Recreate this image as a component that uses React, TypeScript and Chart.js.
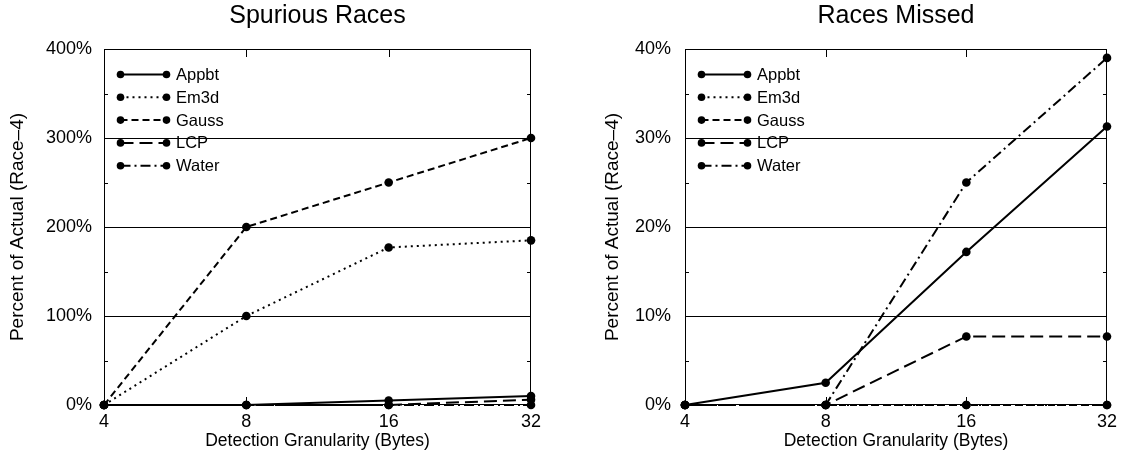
import React, { useEffect, useRef } from 'react';
import { Chart, registerables } from 'chart.js';

Chart.register(...registerables);

const FONT = "'Liberation Sans', Arial, Helvetica, sans-serif";

// ---------- data ----------
const categories = ['4', '8', '16', '32'];
const seriesNames = ['Appbt', 'Em3d', 'Gauss', 'LCP', 'Water'];

const spuriousAppbt = [0, 0, 5, 10];
const spuriousEm3d = [0, 100, 177, 185];
const spuriousGauss = [0, 200, 250, 300];
const spuriousLCP = [0, 0, 0, 6];
const spuriousWater = [0, 0, 0, 0];

const missedAppbt = [0, 2.5, 17.2, 31.3];
const missedEm3d = [0, 0, 0, 0];
const missedGauss = [0, 0, 0, 0];
const missedLCP = [0, 0, 7.7, 7.7];
const missedWater = [0, 0, 25, 39];

const spuriousTicks = [0, 100, 200, 300, 400];
const missedTicks = [0, 10, 20, 30, 40];

const dashes: number[][] = [[], [2, 4], [7, 4], [13, 6], [10, 4, 2, 4]];

// ---------- plugins ----------
const framePlugin = {
  id: 'gnuFrame',
  beforeDatasetsDraw(chart: any, _args: any, opts: any) {
    const { ctx, chartArea } = chart;
    const { left, right, top, bottom } = chartArea;
    const y = chart.scales.y;
    const x = chart.scales.x;
    ctx.save();
    ctx.strokeStyle = '#000';
    ctx.lineWidth = 1;
    ctx.setLineDash([]);
    const line = (x0: number, y0: number, x1: number, y1: number) => {
      ctx.beginPath();
      ctx.moveTo(x0, y0);
      ctx.lineTo(x1, y1);
      ctx.stroke();
    };
    const ticks: number[] = opts.ticks;
    ticks.slice(1, -1).forEach((v) => {
      const py = Math.round(y.getPixelForValue(v)) + 0.5;
      line(left, py, right, py);
    });
    const step = ticks[1] - ticks[0];
    const minor = step / 2;
    for (let v = ticks[0]; v <= ticks[ticks.length - 1] + 1e-9; v += minor) {
      const py = Math.round(y.getPixelForValue(v)) + 0.5;
      const len = Math.abs(v / step - Math.round(v / step)) < 1e-6 ? 8 : 4;
      line(left, py, left + len, py);
      line(right - len, py, right, py);
    }
    for (let i = 1; i < categories.length - 1; i++) {
      const px = Math.round(x.getPixelForValue(i)) + 0.5;
      line(px, top, px, top + 8);
      line(px, bottom - 8, px, bottom);
    }
    ctx.strokeRect(left + 0.5, top + 0.5, right - left - 1, bottom - top - 1);
    ctx.restore();
  },
};

const legendPlugin = {
  id: 'gnuLegend',
  afterDatasetsDraw(chart: any) {
    const { ctx, chartArea } = chart;
    ctx.save();
    chart.data.datasets.forEach((ds: any, i: number) => {
      const yy = chartArea.top + 25.5 + i * 22.8;
      const x0 = chartArea.left + 16.5;
      const x1 = chartArea.left + 62.5;
      ctx.strokeStyle = '#000';
      ctx.fillStyle = '#000';
      ctx.lineWidth = 2;
      ctx.setLineDash(ds.borderDash || []);
      ctx.beginPath();
      ctx.moveTo(x0, yy);
      ctx.lineTo(x1, yy);
      ctx.stroke();
      ctx.setLineDash([]);
      [x0, x1].forEach((px) => {
        ctx.beginPath();
        ctx.arc(px, yy, 3.8, 0, Math.PI * 2);
        ctx.fill();
      });
      ctx.font = `16.5px ${FONT}`;
      ctx.textAlign = 'left';
      ctx.textBaseline = 'middle';
      ctx.fillText(ds.label, chartArea.left + 72, yy + 1);
    });
    ctx.restore();
  },
};

function buildDatasets(values: number[][]) {
  return values.map((data, i) => ({
    label: seriesNames[i],
    data,
    borderColor: '#000',
    backgroundColor: '#000',
    borderWidth: 2,
    borderDash: dashes[i],
    pointRadius: 4.3,
    pointBorderWidth: 0,
    pointBackgroundColor: '#000',
    pointHoverRadius: 4.3,
    tension: 0,
    fill: false,
    clip: false as any,
  }));
}

function buildConfig(opts: {
  title: string;
  values: number[][];
  ticks: number[];
  padLeft: number;
  padRight: number;
  yWidth: number;
  tickPad: number;
}): any {
  const max = opts.ticks[opts.ticks.length - 1];
  const step = opts.ticks[1] - opts.ticks[0];
  return {
    type: 'line',
    data: { labels: categories, datasets: buildDatasets(opts.values) },
    plugins: [framePlugin, legendPlugin],
    options: {
      responsive: false,
      animation: false,
      events: [],
      layout: { padding: { left: opts.padLeft, right: opts.padRight, top: 0, bottom: 0 } },
      plugins: {
        legend: { display: false },
        tooltip: { enabled: false },
        title: {
          display: true,
          text: opts.title,
          color: '#000',
          fullSize: false,
          font: { family: FONT, size: 25, weight: 'normal' },
          padding: { top: 1.5, bottom: 17.5 },
        },
        gnuFrame: { ticks: opts.ticks },
      },
      scales: {
        x: {
          type: 'category',
          offset: false,
          grid: { display: false, drawTicks: false },
          border: { display: false },
          ticks: {
            color: '#000',
            padding: 6,
            maxRotation: 0,
            autoSkip: false,
            font: { family: FONT, size: 18 },
          },
          title: {
            display: true,
            text: 'Detection Granularity (Bytes)',
            color: '#000',
            font: { family: FONT, size: 17.5 },
            padding: { top: 0, bottom: 10.5 },
          },
          afterFit: (scale: any) => {
            scale.height = 57;
          },
        },
        y: {
          min: 0,
          max,
          grid: { display: false, drawTicks: false },
          border: { display: false },
          ticks: {
            stepSize: step,
            color: '#000',
            padding: opts.tickPad,
            font: { family: FONT, size: 18 },
            callback: (v: any) => `${v}%`,
          },
          title: {
            display: true,
            text: 'Percent of Actual (Race–4)',
            color: '#000',
            font: { family: FONT, size: 19 },
            padding: { top: 6.6, bottom: 0 },
          },
          afterFit: (scale: any) => {
            scale.width = opts.yWidth;
          },
        },
      },
    },
  };
}

function ChartCanvas({ config, width, height, left }: { config: any; width: number; height: number; left: number }) {
  const ref = useRef<HTMLCanvasElement | null>(null);
  useEffect(() => {
    if (!ref.current) return;
    const chart = new Chart(ref.current, config);
    return () => chart.destroy();
  }, [config]);
  return (
    <canvas
      ref={ref}
      width={width}
      height={height}
      style={{ position: 'absolute', left, top: 0, width, height, display: 'block' }}
    />
  );
}

const leftConfig = buildConfig({
  title: 'Spurious Races',
  values: [spuriousAppbt, spuriousEm3d, spuriousGauss, spuriousLCP, spuriousWater],
  ticks: spuriousTicks,
  padLeft: 0,
  padRight: 30,
  yWidth: 104,
  tickPad: 12,
});

const rightConfig = buildConfig({
  title: 'Races Missed',
  values: [missedAppbt, missedEm3d, missedGauss, missedLCP, missedWater],
  ticks: missedTicks,
  padLeft: 34,
  padRight: 12,
  yWidth: 90,
  tickPad: 14,
});

export default function App() {
  return (
    <div
      style={{
        position: 'fixed',
        left: 0,
        top: 0,
        width: 1123,
        height: 462,
        background: '#fff',
        overflow: 'hidden',
      }}
    >
      <ChartCanvas config={leftConfig} width={561} height={462} left={0} />
      <ChartCanvas config={rightConfig} width={562} height={462} left={561} />
    </div>
  );
}
